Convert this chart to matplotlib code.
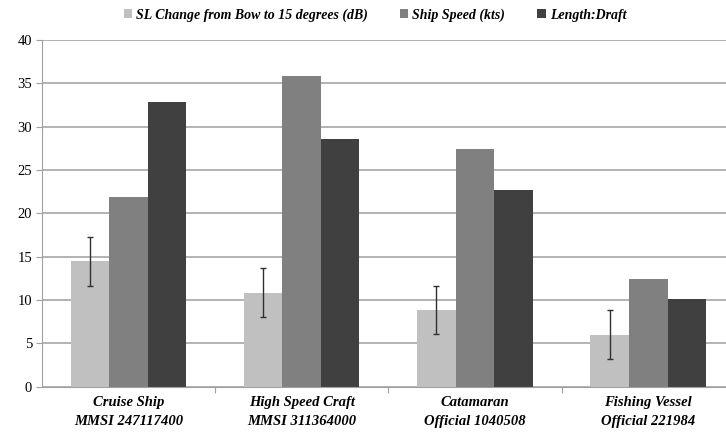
import numpy as np
import matplotlib
matplotlib.use("Agg")
import matplotlib.pyplot as plt
from matplotlib.patches import Patch

# Data
categories = ["Cruise Ship\nMMSI 247117400", "High Speed Craft\nMMSI 311364000",
              "Catamaran\nOfficial 1040508", "Fishing Vessel\nOfficial 221984"]
series_names = ["SL Change from Bow to 15 degrees (dB)", "Ship Speed (kts)", "Length:Draft"]
sl_change = [14.45, 10.85, 8.85, 6.0]
sl_error = [2.8, 2.8, 2.8, 2.8]
ship_speed = [21.9, 35.9, 27.4, 12.4]
length_draft = [32.8, 28.6, 22.7, 10.1]
y_ticks = [0, 5, 10, 15, 20, 25, 30, 35, 40]

colors = ["#c0c0c0", "#808080", "#404040"]
serif = ["Liberation Serif", "DejaVu Serif"]

W, H = 726, 432
fig = plt.figure(figsize=(W / 100, H / 100), dpi=100)
left_px, bottom_px, top_px = 41.7, 386.7, 40.0
cat_px = 173.3
ax = fig.add_axes([left_px / W, (H - bottom_px) / H, 4 * cat_px / W, (bottom_px - top_px) / H])

x = np.arange(len(categories))
bw = 2 / 9  # three bars with a gap of 1.5 bar widths per category
values = [sl_change, ship_speed, length_draft]
for i, (vals, c, name) in enumerate(zip(values, colors, series_names)):
    kw = {}
    if i == 0:
        kw = dict(yerr=sl_error, capsize=2.5,
                  error_kw=dict(ecolor="#303030", elinewidth=1.0, capthick=1.0))
    ax.bar(x + (i - 1) * bw, vals, width=bw, color=c, label=name, zorder=2, **kw)

ax.set_xlim(-0.5, 3.5)
ax.set_ylim(0, 40)
ax.set_yticks(y_ticks)
ax.set_yticklabels([str(t) for t in y_ticks], family=serif, fontsize=10.5)
ax.yaxis.grid(True, color="#a6a6a6", linewidth=1.2, zorder=0)
ax.set_axisbelow(True)

# Category boundary ticks on the x axis; labels placed at category centres
ax.set_xticks([0.5, 1.5, 2.5])
ax.set_xticklabels([])
ax.tick_params(axis="x", length=4, color="#a0a0a0", direction="out")
ax.tick_params(axis="y", length=4, color="#a0a0a0", direction="out", pad=3)
for xi, lab in zip(x, categories):
    ax.text(xi, -1.1, lab, ha="center", va="top", family=serif, fontsize=10.5,
            fontweight="bold", fontstyle="italic", linespacing=1.55,
            transform=ax.transData)

for s in ["top", "right"]:
    ax.spines[s].set_visible(False)
ax.spines["left"].set_color("#a0a0a0")
ax.spines["bottom"].set_color("#a0a0a0")

handles = [Patch(facecolor=c, edgecolor="none") for c in colors]
fig.legend(handles, series_names, loc="center", bbox_to_anchor=(375 / W, 1 - 15 / H),
           ncol=3, frameon=False, handlelength=0.6, handleheight=0.6, handletextpad=0.3,
           columnspacing=2.3, prop=dict(family=serif, size=10, weight="bold", style="italic"))

fig.savefig("out.png", dpi=100)
